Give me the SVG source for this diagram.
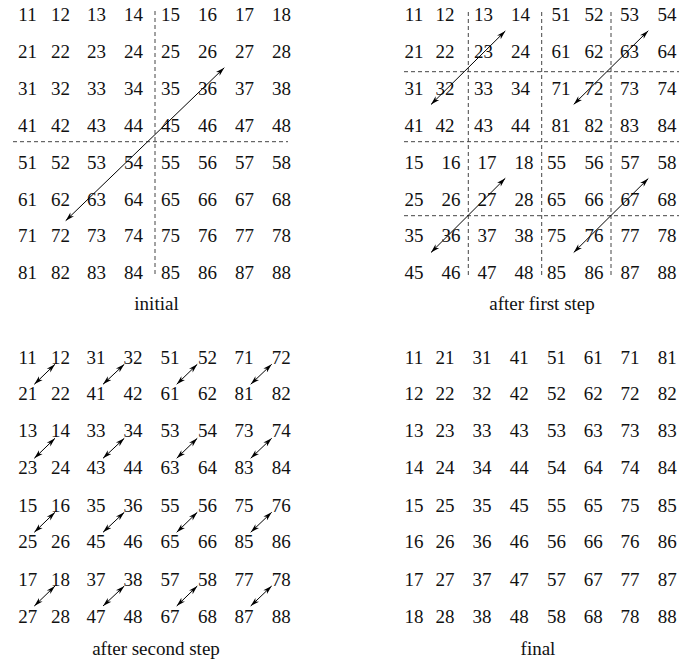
<svg xmlns="http://www.w3.org/2000/svg" width="693" height="662" viewBox="0 0 693 662">
<style>
text{font-family:"Liberation Serif","Times New Roman",serif;font-size:19px;fill:#111;text-anchor:middle}
.d{stroke:#444;stroke-width:1;stroke-dasharray:4 3;fill:none}
.a{stroke:#000;stroke-width:1;fill:none;marker-start:url(#ah);marker-end:url(#ah)}
</style>
<defs>
<marker id="ah" markerUnits="userSpaceOnUse" markerWidth="10" markerHeight="6" viewBox="-10 -3 10 6" refX="0" refY="0" orient="auto-start-reverse">
<path d="M0,0 L-9,-2.6 L-6.5,0 L-9,2.6 Z" fill="#000"/>
</marker>
</defs>
<rect width="693" height="662" fill="#fff"/>

<g id="initial">
<line class="d" x1="155" y1="11" x2="155" y2="276"/>
<line class="d" x1="13" y1="141.7" x2="288" y2="141.7"/>
<text x="27.5" y="21">11</text><text x="60.5" y="21">12</text><text x="96.5" y="21">13</text><text x="133.5" y="21">14</text><text x="170.5" y="21">15</text><text x="207.5" y="21">16</text><text x="244.5" y="21">17</text><text x="281.5" y="21">18</text>
<text x="27.5" y="58">21</text><text x="60.5" y="58">22</text><text x="96.5" y="58">23</text><text x="133.5" y="58">24</text><text x="170.5" y="58">25</text><text x="207.5" y="58">26</text><text x="244.5" y="58">27</text><text x="281.5" y="58">28</text>
<text x="27.5" y="95">31</text><text x="60.5" y="95">32</text><text x="96.5" y="95">33</text><text x="133.5" y="95">34</text><text x="170.5" y="95">35</text><text x="207.5" y="95">36</text><text x="244.5" y="95">37</text><text x="281.5" y="95">38</text>
<text x="27.5" y="132">41</text><text x="60.5" y="132">42</text><text x="96.5" y="132">43</text><text x="133.5" y="132">44</text><text x="170.5" y="132">45</text><text x="207.5" y="132">46</text><text x="244.5" y="132">47</text><text x="281.5" y="132">48</text>
<text x="27.5" y="169">51</text><text x="60.5" y="169">52</text><text x="96.5" y="169">53</text><text x="133.5" y="169">54</text><text x="170.5" y="169">55</text><text x="207.5" y="169">56</text><text x="244.5" y="169">57</text><text x="281.5" y="169">58</text>
<text x="27.5" y="205.5">61</text><text x="60.5" y="205.5">62</text><text x="96.5" y="205.5">63</text><text x="133.5" y="205.5">64</text><text x="170.5" y="205.5">65</text><text x="207.5" y="205.5">66</text><text x="244.5" y="205.5">67</text><text x="281.5" y="205.5">68</text>
<text x="27.5" y="242">71</text><text x="60.5" y="242">72</text><text x="96.5" y="242">73</text><text x="133.5" y="242">74</text><text x="170.5" y="242">75</text><text x="207.5" y="242">76</text><text x="244.5" y="242">77</text><text x="281.5" y="242">78</text>
<text x="27.5" y="279">81</text><text x="60.5" y="279">82</text><text x="96.5" y="279">83</text><text x="133.5" y="279">84</text><text x="170.5" y="279">85</text><text x="207.5" y="279">86</text><text x="244.5" y="279">87</text><text x="281.5" y="279">88</text>
<text x="156.5" y="310">initial</text>
</g>

<g id="after-first-step">
<line class="d" x1="468.3" y1="12" x2="468.3" y2="278"/>
<line class="d" x1="541.7" y1="12" x2="541.7" y2="278"/>
<line class="d" x1="611" y1="12" x2="611" y2="278"/>
<line class="d" x1="404" y1="71.7" x2="679" y2="71.7"/>
<line class="d" x1="404" y1="141.7" x2="679" y2="141.7"/>
<line class="d" x1="404" y1="215.7" x2="679" y2="215.7"/>
<text x="414" y="21">11</text><text x="445" y="21">12</text><text x="483.5" y="21">13</text><text x="520.5" y="21">14</text><text x="561" y="21">51</text><text x="594" y="21">52</text><text x="629.5" y="21">53</text><text x="667" y="21">54</text>
<text x="414" y="58">21</text><text x="445" y="58">22</text><text x="483.5" y="58">23</text><text x="520.5" y="58">24</text><text x="561" y="58">61</text><text x="594" y="58">62</text><text x="629.5" y="58">63</text><text x="667" y="58">64</text>
<text x="414" y="95">31</text><text x="445" y="95">32</text><text x="483.5" y="95">33</text><text x="520.5" y="95">34</text><text x="561" y="95">71</text><text x="594" y="95">72</text><text x="629.5" y="95">73</text><text x="667" y="95">74</text>
<text x="414" y="132">41</text><text x="445" y="132">42</text><text x="483.5" y="132">43</text><text x="520.5" y="132">44</text><text x="561" y="132">81</text><text x="594" y="132">82</text><text x="629.5" y="132">83</text><text x="667" y="132">84</text>
<text x="414" y="169">15</text><text x="451" y="169">16</text><text x="487" y="169">17</text><text x="524" y="169">18</text><text x="556.5" y="169">55</text><text x="594" y="169">56</text><text x="630" y="169">57</text><text x="667" y="169">58</text>
<text x="414" y="205.5">25</text><text x="451" y="205.5">26</text><text x="487" y="205.5">27</text><text x="524" y="205.5">28</text><text x="556.5" y="205.5">65</text><text x="594" y="205.5">66</text><text x="630" y="205.5">67</text><text x="667" y="205.5">68</text>
<text x="414" y="242">35</text><text x="451" y="242">36</text><text x="487" y="242">37</text><text x="524" y="242">38</text><text x="556.5" y="242">75</text><text x="594" y="242">76</text><text x="630" y="242">77</text><text x="667" y="242">78</text>
<text x="414" y="279">45</text><text x="451" y="279">46</text><text x="487" y="279">47</text><text x="524" y="279">48</text><text x="556.5" y="279">85</text><text x="594" y="279">86</text><text x="630" y="279">87</text><text x="667" y="279">88</text>
<text x="542" y="309.5">after first step</text>
</g>

<g id="after-second-step">
<text x="27.7" y="363.5">11</text><text x="60.5" y="363.5">12</text><text x="96" y="363.5">31</text><text x="133" y="363.5">32</text><text x="170" y="363.5">51</text><text x="207.5" y="363.5">52</text><text x="244" y="363.5">71</text><text x="281.3" y="363.5">72</text>
<text x="27.7" y="400">21</text><text x="60.5" y="400">22</text><text x="96" y="400">41</text><text x="133" y="400">42</text><text x="170" y="400">61</text><text x="207.5" y="400">62</text><text x="244" y="400">81</text><text x="281.3" y="400">82</text>
<text x="27.7" y="437">13</text><text x="60.5" y="437">14</text><text x="96" y="437">33</text><text x="133" y="437">34</text><text x="170" y="437">53</text><text x="207.5" y="437">54</text><text x="244" y="437">73</text><text x="281.3" y="437">74</text>
<text x="27.7" y="474">23</text><text x="60.5" y="474">24</text><text x="96" y="474">43</text><text x="133" y="474">44</text><text x="170" y="474">63</text><text x="207.5" y="474">64</text><text x="244" y="474">83</text><text x="281.3" y="474">84</text>
<text x="27.7" y="511.5">15</text><text x="60.5" y="511.5">16</text><text x="96" y="511.5">35</text><text x="133" y="511.5">36</text><text x="170" y="511.5">55</text><text x="207.5" y="511.5">56</text><text x="244" y="511.5">75</text><text x="281.3" y="511.5">76</text>
<text x="27.7" y="548.3">25</text><text x="60.5" y="548.3">26</text><text x="96" y="548.3">45</text><text x="133" y="548.3">46</text><text x="170" y="548.3">65</text><text x="207.5" y="548.3">66</text><text x="244" y="548.3">85</text><text x="281.3" y="548.3">86</text>
<text x="27.7" y="585.5">17</text><text x="60.5" y="585.5">18</text><text x="96" y="585.5">37</text><text x="133" y="585.5">38</text><text x="170" y="585.5">57</text><text x="207.5" y="585.5">58</text><text x="244" y="585.5">77</text><text x="281.3" y="585.5">78</text>
<text x="27.7" y="622.5">27</text><text x="60.5" y="622.5">28</text><text x="96" y="622.5">47</text><text x="133" y="622.5">48</text><text x="170" y="622.5">67</text><text x="207.5" y="622.5">68</text><text x="244" y="622.5">87</text><text x="281.3" y="622.5">88</text>
<text x="156" y="655">after second step</text>
</g>

<g id="final">
<text x="414" y="363.5">11</text><text x="445" y="363.5">21</text><text x="482" y="363.5">31</text><text x="519.3" y="363.5">41</text><text x="556.5" y="363.5">51</text><text x="593.3" y="363.5">61</text><text x="630" y="363.5">71</text><text x="667.3" y="363.5">81</text>
<text x="414" y="400">12</text><text x="445" y="400">22</text><text x="482" y="400">32</text><text x="519.3" y="400">42</text><text x="556.5" y="400">52</text><text x="593.3" y="400">62</text><text x="630" y="400">72</text><text x="667.3" y="400">82</text>
<text x="414" y="437">13</text><text x="445" y="437">23</text><text x="482" y="437">33</text><text x="519.3" y="437">43</text><text x="556.5" y="437">53</text><text x="593.3" y="437">63</text><text x="630" y="437">73</text><text x="667.3" y="437">83</text>
<text x="414" y="474">14</text><text x="445" y="474">24</text><text x="482" y="474">34</text><text x="519.3" y="474">44</text><text x="556.5" y="474">54</text><text x="593.3" y="474">64</text><text x="630" y="474">74</text><text x="667.3" y="474">84</text>
<text x="414" y="511.5">15</text><text x="445" y="511.5">25</text><text x="482" y="511.5">35</text><text x="519.3" y="511.5">45</text><text x="556.5" y="511.5">55</text><text x="593.3" y="511.5">65</text><text x="630" y="511.5">75</text><text x="667.3" y="511.5">85</text>
<text x="414" y="548.3">16</text><text x="445" y="548.3">26</text><text x="482" y="548.3">36</text><text x="519.3" y="548.3">46</text><text x="556.5" y="548.3">56</text><text x="593.3" y="548.3">66</text><text x="630" y="548.3">76</text><text x="667.3" y="548.3">86</text>
<text x="414" y="585.5">17</text><text x="445" y="585.5">27</text><text x="482" y="585.5">37</text><text x="519.3" y="585.5">47</text><text x="556.5" y="585.5">57</text><text x="593.3" y="585.5">67</text><text x="630" y="585.5">77</text><text x="667.3" y="585.5">87</text>
<text x="414" y="622.5">18</text><text x="445" y="622.5">28</text><text x="482" y="622.5">38</text><text x="519.3" y="622.5">48</text><text x="556.5" y="622.5">58</text><text x="593.3" y="622.5">68</text><text x="630" y="622.5">78</text><text x="667.3" y="622.5">88</text>
<text x="538" y="655">final</text>
</g>

<g id="connectors">
<line class="a" x1="65.7" y1="220.7" x2="224.3" y2="67.7"/>
<line class="a" x1="431" y1="104.5" x2="505.3" y2="31"/>
<line class="a" x1="573.7" y1="104.4" x2="648.3" y2="30.7"/>
<line class="a" x1="431" y1="252.5" x2="505.3" y2="178.3"/>
<line class="a" x1="573.7" y1="252.5" x2="648.3" y2="178.5"/>
<line class="a" x1="34.3" y1="384.3" x2="55" y2="364.3"/>
<line class="a" x1="103" y1="384.3" x2="124.3" y2="364.3"/>
<line class="a" x1="176.7" y1="384.3" x2="197.3" y2="364.3"/>
<line class="a" x1="250.7" y1="384.3" x2="271.7" y2="364.3"/>
<line class="a" x1="34.3" y1="458.3" x2="55" y2="438.3"/>
<line class="a" x1="103" y1="458.3" x2="124.3" y2="438.3"/>
<line class="a" x1="176.7" y1="458.3" x2="197.3" y2="438.3"/>
<line class="a" x1="250.7" y1="458.3" x2="271.7" y2="438.3"/>
<line class="a" x1="34.3" y1="532.3" x2="55" y2="512.3"/>
<line class="a" x1="103" y1="532.3" x2="124.3" y2="512.3"/>
<line class="a" x1="176.7" y1="532.3" x2="197.3" y2="512.3"/>
<line class="a" x1="250.7" y1="532.3" x2="271.7" y2="512.3"/>
<line class="a" x1="34.3" y1="606" x2="55" y2="586"/>
<line class="a" x1="103" y1="606" x2="124.3" y2="586"/>
<line class="a" x1="176.7" y1="606" x2="197.3" y2="586"/>
<line class="a" x1="250.7" y1="606" x2="271.7" y2="586"/>
</g>
</svg>
